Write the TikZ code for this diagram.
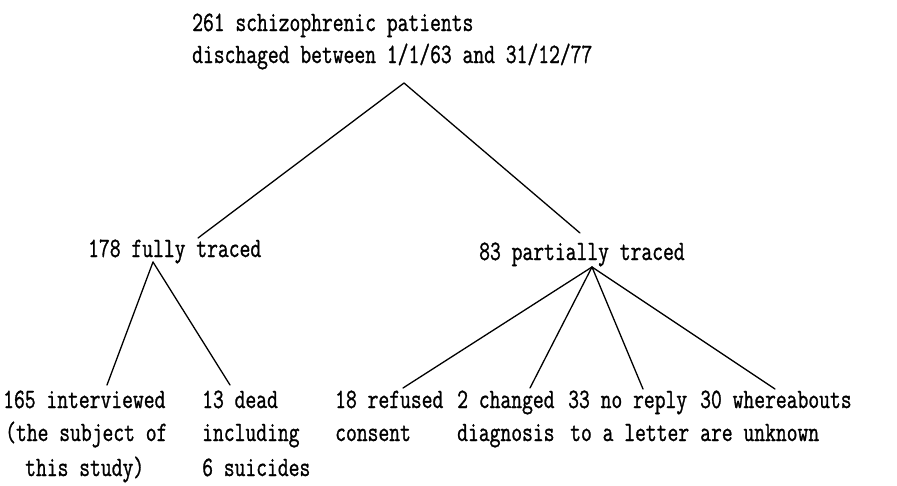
\documentclass[tikz,border=0pt]{standalone}
\usepackage{fontspec}
\newfontfamily\tw[FakeStretch=0.75,FakeBold=1]{Latin Modern Mono}
\begin{document}
\begin{tikzpicture}[x=1pt,y=-1pt,
  txt/.style={inner sep=0pt, anchor=base west, font=\tw\fontsize{28}{34}\selectfont},
  link/.style={line width=1.3pt, line cap=round}]
\useasboundingbox (0,0) rectangle (897,485);
% texts
\node[txt] (t1) at (192,31) {261 schizophrenic patients};
\node[txt] (t2) at (192,63) {dischaged between 1/1/63 and 31/12/77};
\node[txt] (f) at (88,257) {178 fully traced};
\node[txt] (p) at (479,260) {83 partially traced};
\node[txt] (a1) at (3,408) {165 interviewed};
\node[txt] (a2) at (5,441) {(the subject of};
\node[txt] (a3) at (25,476) {this study)};
\node[txt] (b1) at (202,408) {13 dead};
\node[txt] (b2) at (202,441) {including};
\node[txt] (b3) at (202,476) {6 suicides};
\node[txt] (c1) at (335,408) {18 refused};
\node[txt] (c2) at (335,441) {consent};
\node[txt] (d1) at (457,408) {2 changed};
\node[txt] (d2) at (457,441) {diagnosis};
\node[txt] (e1) at (568,408) {33 no reply};
\node[txt] (e2) at (570,441) {to a letter};
\node[txt] (g1) at (700,408) {30 whereabouts};
\node[txt] (g2) at (700,441) {are unknown};
% junction points
\coordinate (top) at (404,83);
\coordinate (fin) at (198,238);
\coordinate (pin) at (580,233);
\coordinate (fout) at (153,262);
\coordinate (pout) at (592,267);
\coordinate (ain) at (107,385);
\coordinate (bin) at (230,385);
\coordinate (cin) at (403,388);
\coordinate (din) at (530,388);
\coordinate (ein) at (643,389);
\coordinate (gin) at (775,389);
% connectors
\draw[link] (top) -- (fin);
\draw[link] (top) -- (pin);
\draw[link] (fout) -- (ain);
\draw[link] (fout) -- (bin);
\draw[link] (pout) -- (cin);
\draw[link] (pout) -- (din);
\draw[link] (pout) -- (ein);
\draw[link] (pout) -- (gin);
\end{tikzpicture}
\end{document}
